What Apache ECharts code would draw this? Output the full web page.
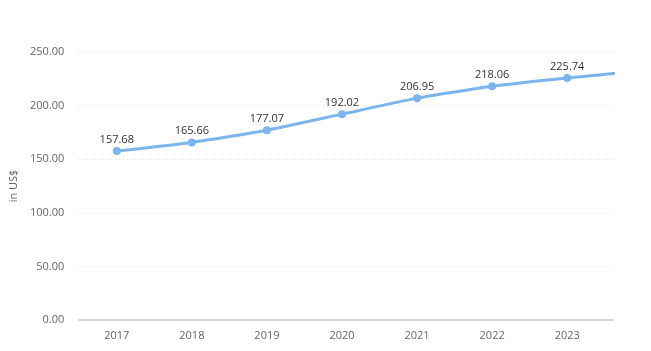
<!DOCTYPE html>
<html>
<head>
<meta charset="utf-8">
<script src="https://cdn.jsdelivr.net/npm/echarts@6/dist/echarts.min.js"></script>
<style>
  html, body { margin: 0; padding: 0; background: #fff; }
  #main { width: 651px; height: 351px; }
</style>
</head>
<body>
<div id="main"></div>
<script>
// years and values (2024 only continues the line past the edge)
var years = [2017, 2018, 2019, 2020, 2021, 2022, 2023, 2024];
var values = [157.68, 165.66, 177.07, 192.02, 206.95, 218.06, 225.74, 232.6];
var yearLabels = [2017, 2018, 2019, 2020, 2021, 2022, 2023];

var dom = document.getElementById('main');
var myChart = echarts.init(dom);

var points = [];
for (var i = 0; i < years.length; i++) {
    points.push({
        value: [years[i], values[i]],
        label: { show: i < yearLabels.length }
    });
}

var option = {
    animation: false,
    textStyle: { fontFamily: 'Open Sans' },
    grid: {
        left: 77,
        right: 38,
        top: 52,
        bottom: 31
    },
    xAxis: {
        type: 'value',
        min: 2016.5,
        max: 2023.61,
        axisLine: { show: true, lineStyle: { color: '#d6d6d6', width: 2 } },
        axisTick: { show: false },
        splitLine: { show: false },
        axisLabel: {
            customValues: yearLabels,
            color: '#666',
            fontSize: 11,
            margin: 10,
            formatter: function (v) { return String(v); }
        }
    },
    yAxis: {
        type: 'value',
        min: 0,
        max: 250,
        interval: 50,
        name: 'in US$',
        nameLocation: 'middle',
        nameGap: 58,
        nameTextStyle: { color: '#666', fontSize: 11 },
        axisLine: { show: false },
        axisTick: { show: false },
        axisLabel: {
            color: '#666',
            fontSize: 11,
            margin: 15,
            formatter: function (v) { return v.toFixed(2); }
        },
        splitLine: {
            lineStyle: { color: '#d8d8d8', type: [1, 3], width: 1 }
        }
    },
    series: [
        {
            type: 'line',
            data: points,
            clip: true,
            smooth: 0.15,
            symbol: 'circle',
            symbolSize: 8,
            lineStyle: { color: '#7cb5ec', width: 3 },
            itemStyle: { color: '#7cb5ec' },
            label: {
                position: 'top',
                distance: 2,
                color: '#333',
                fontSize: 11,
                formatter: function (p) { return p.value[1].toFixed(2); }
            }
        }
    ]
};

myChart.setOption(option, true);
</script>
</body>
</html>
